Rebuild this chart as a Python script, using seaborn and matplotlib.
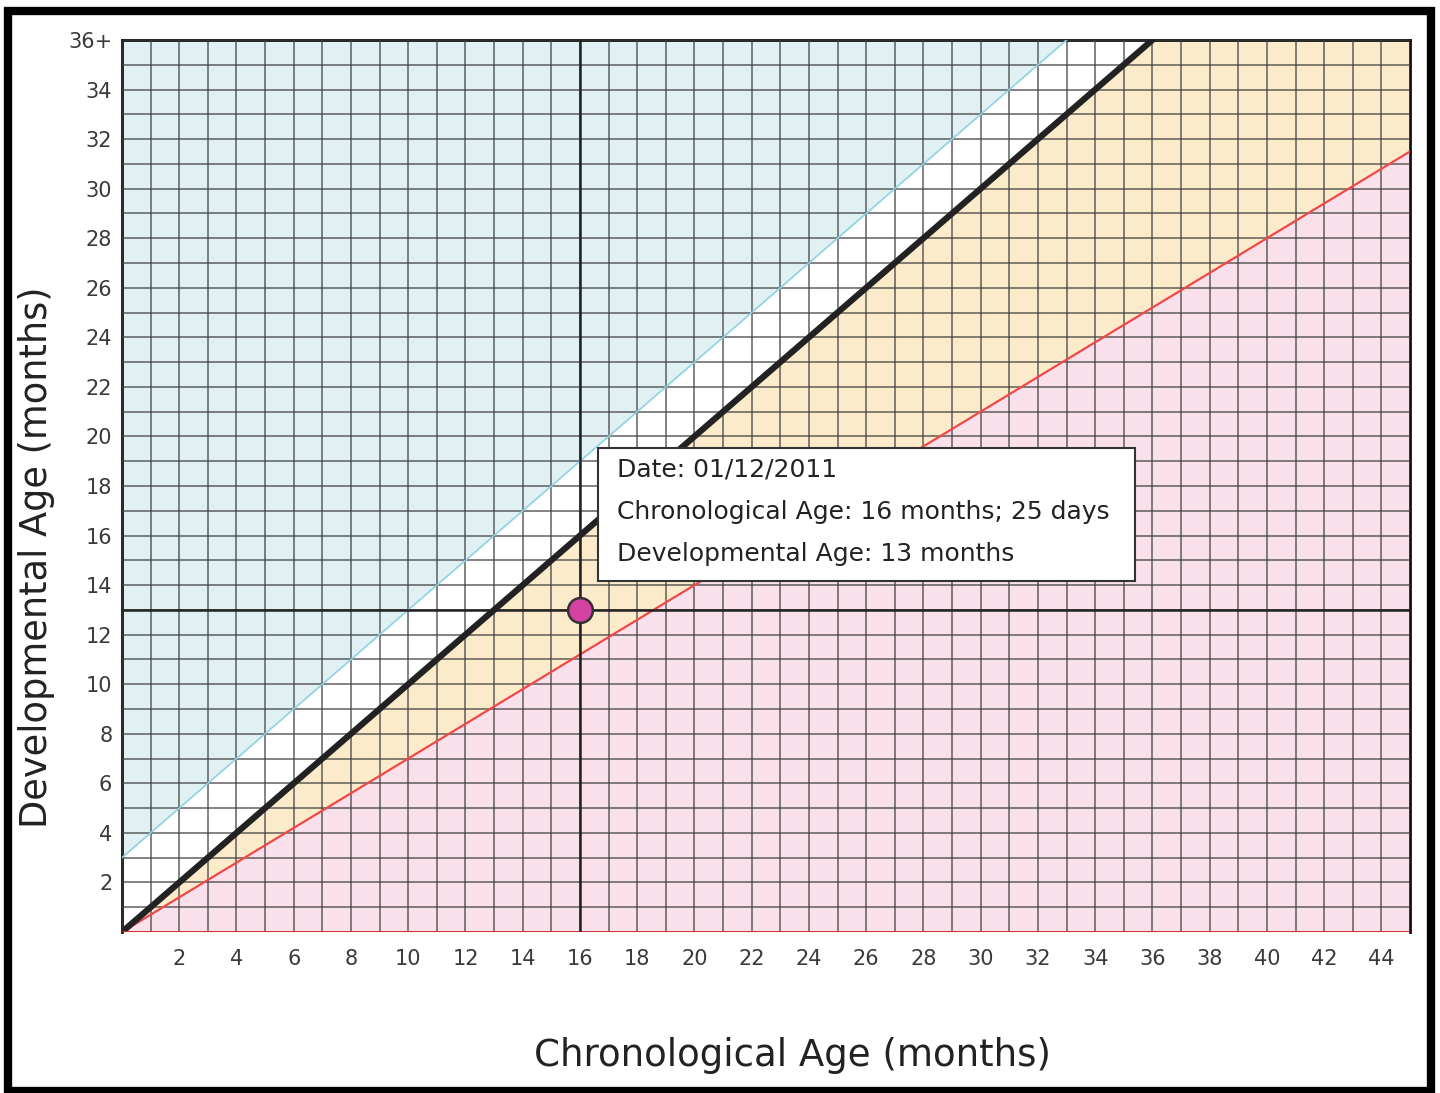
import numpy as np
import pandas as pd
import matplotlib.pyplot as plt
from matplotlib.patches import Rectangle
import seaborn as sns

# Datos del gráfico (meses)
x_max = 45
y_max = 36
x_tick_values = list(range(2, 45, 2))
y_tick_values = list(range(2, 37, 2))
y_tick_labels = [str(v) for v in range(2, 35, 2)] + ['36+']

# Líneas de referencia
upper_x = [0, 33]
upper_y = [3, 36]
typical_x = [0, 36, 45]
typical_y = [0, 36, 36]
lower_x = [0, 45]
lower_y = [0, 31.5]

# Punto medido
point_chron = [16]
point_dev = [13]

tooltip_lines = ['Date: 01/12/2011',
                 'Chronological Age: 16 months; 25 days',
                 'Developmental Age: 13 months']

# Colores
c_blue_fill = '#e0f0f3'
c_orange_fill = '#fcebcb'
c_pink_fill = '#fae0ea'
c_grid = '#404040'

sns.set_theme(style='white')
plt.rcParams['font.family'] = ['DejaVu Sans']

fig = plt.figure(figsize=(14.4, 10.93), dpi=100)
ax = fig.add_axes([122 / 1440, 1 - 932 / 1093, (1410 - 122) / 1440, (932 - 40) / 1093])

# Rellenos de zonas
xs = np.linspace(0, x_max, 200)
up = np.interp(xs, upper_x, upper_y, right=np.inf)
typ = np.interp(xs, typical_x, typical_y)
low = np.interp(xs, lower_x, lower_y)
ax.fill_between(xs, np.minimum(up, y_max), y_max, color=c_blue_fill, lw=0, zorder=1)
ax.fill_between(xs, low, typ, color=c_orange_fill, lw=0, zorder=1)
ax.fill_between(xs, 0, low, color=c_pink_fill, lw=0, zorder=1)

# Rejilla cada mes
ax.set_xticks(x_tick_values)
ax.set_xticks(range(0, x_max + 1), minor=True)
ax.set_yticks(y_tick_values)
ax.set_yticks(range(0, y_max + 1), minor=True)
ax.set_yticklabels(y_tick_labels)
ax.set_axisbelow(False)
ax.grid(which='both', color=c_grid, lw=1.3, alpha=0.7, zorder=2)
ax.tick_params(which='both', length=0)
ax.tick_params(axis='x', pad=12, labelsize=15, labelcolor='#3a3a3a')
ax.tick_params(axis='y', pad=7, labelsize=15, labelcolor='#3a3a3a')

# Líneas
df_lines = pd.DataFrame({
    'x': upper_x + lower_x + typical_x[:2],
    'y': upper_y + lower_y + typical_y[:2],
    'line': ['upper'] * 2 + ['lower'] * 2 + ['typical'] * 2,
})
sns.lineplot(data=df_lines[df_lines.line == 'upper'], x='x', y='y', color='#8fd3e3', lw=1.2, ax=ax, zorder=4)
sns.lineplot(data=df_lines[df_lines.line == 'lower'], x='x', y='y', color='#f04848', lw=1.6, ax=ax, zorder=4)
sns.lineplot(data=df_lines[df_lines.line == 'typical'], x='x', y='y', color='#222222', lw=4.5, ax=ax, zorder=5)
ax.axhline(0, color='#e03030', lw=2, zorder=5)

# Cruz en el punto
ax.axvline(point_chron[0], color='#222222', lw=1.8, zorder=5)
ax.axhline(point_dev[0], color='#222222', lw=1.8, zorder=5)
sns.scatterplot(x=point_chron, y=point_dev, s=320, color='#d443a2', edgecolor='#333333',
                linewidth=1.8, ax=ax, zorder=7)

# Cuadro informativo
ax.add_patch(Rectangle((16.64, 14.17), 35.4 - 16.64, 19.55 - 14.17, facecolor='white',
                       edgecolor='#333333', lw=1.5, zorder=8))
for i, line in enumerate(tooltip_lines):
    ax.text(17.3, 18.66 - i * 1.7, line, fontsize=18, color='#222222', va='center', ha='left', zorder=9)

ax.set_xlim(0, x_max)
ax.set_ylim(0, y_max)
ax.set_xlabel('')
ax.set_ylabel('')
for side in ['left', 'top', 'right']:
    ax.spines[side].set_color('#111111')
    ax.spines[side].set_linewidth(2)
ax.spines['bottom'].set_visible(False)

fig.text(792 / 1440, 1 - 1055 / 1093, 'Chronological Age (months)', fontsize=26.7, color='#222222',
         ha='center', va='center')
fig.text(37 / 1440, 1 - 557 / 1093, 'Developmental Age (months)', fontsize=26.5, color='#222222',
         ha='center', va='center', rotation=90)

# Marco exterior
fig.patches.append(Rectangle((7.5 / 1440, 1 - 1091 / 1093), (1431 - 7.5) / 1440, (1091 - 11) / 1093,
                             transform=fig.transFigure, fill=False, edgecolor='black', lw=6))

fig.savefig('out.png', dpi=100)
